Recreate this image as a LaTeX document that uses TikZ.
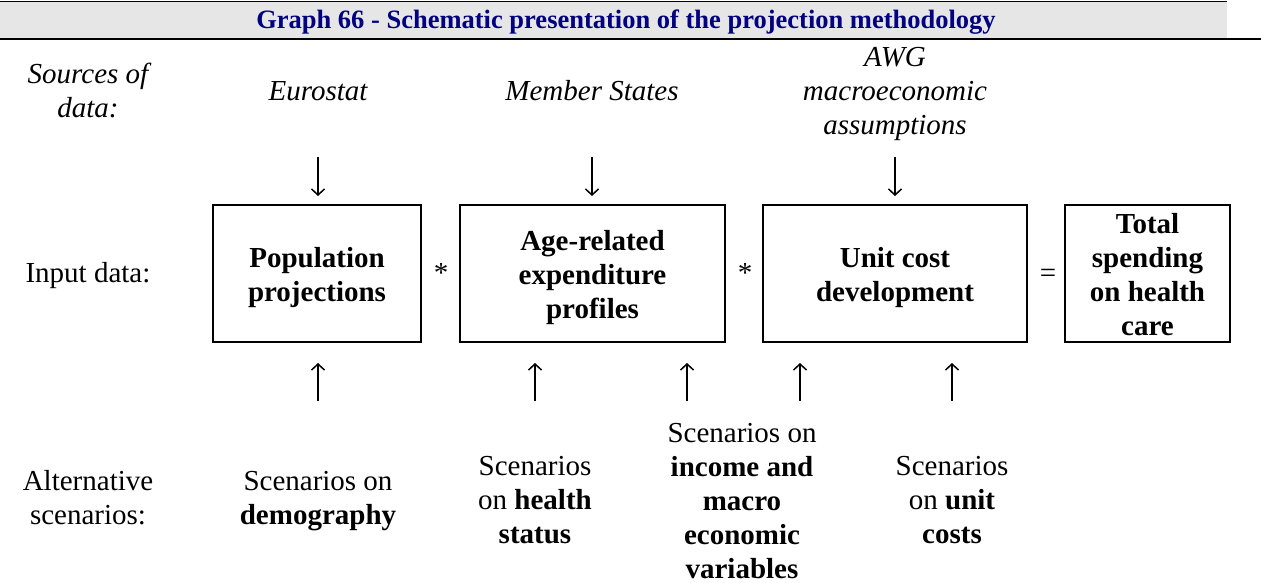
\documentclass[tikz,border=0pt]{standalone}
\usepackage{fontspec}
\setmainfont{Liberation Serif}
\usetikzlibrary{arrows.meta}
\definecolor{titleblue}{RGB}{0,0,128}
\definecolor{bargray}{RGB}{230,230,230}
\begin{document}
\begin{tikzpicture}[x=1pt,y=-1pt,
  txt/.style={font=\fontsize{29}{34}\selectfont, align=center, anchor=base, inner sep=0pt},
  itxt/.style={txt, font=\fontsize{29}{34}\selectfont\itshape},
  btxt/.style={txt, font=\fontsize{29}{34}\selectfont\bfseries},
  frame/.style={draw, line width=1.3pt, inner sep=0pt},
  arr/.style={line width=1.5pt, -{Straight Barb[length=6pt,width=13pt]}}]
\useasboundingbox (0,0) rectangle (1261,583);
% title bar
\fill[bargray] (0,2) rectangle (1227,38);
\draw[line width=1pt] (0,1.5) -- (1227,1.5);
\draw[line width=2pt] (0,39) -- (1261,39);
\node[anchor=base, inner sep=0pt, text=titleblue, font=\fontsize{26.5}{30}\selectfont\bfseries] (title) at (626,29) {Graph 66 - Schematic presentation of the projection methodology};
% sources row (base anchor = baseline of the last line)
\node[itxt] (src) at (88,118) {Sources of\\data:};
\node[itxt] (euro) at (318,101) {Eurostat};
\node[itxt] (ms) at (592,101) {Member States};
\node[itxt] (awg) at (895,135) {AWG\\macroeconomic\\assumptions};
% boxes
\node[frame, minimum width=208pt, minimum height=137pt] (b1) at (317,273.5) {};
\node[frame, minimum width=265pt, minimum height=137pt] (b2) at (592.5,273.5) {};
\node[frame, minimum width=264pt, minimum height=137pt] (b3) at (895,273.5) {};
\node[frame, minimum width=165pt, minimum height=137pt] (b4) at (1147.5,273.5) {};
\node[btxt] (t1) at (317,301) {Population\\projections};
\node[btxt] (t2) at (592.5,318) {Age-related\\expenditure\\profiles};
\node[btxt] (t3) at (895,301) {Unit cost\\development};
\node[btxt] (t4) at (1147.5,335) {Total\\spending\\on health\\care};
\node[txt] (inp) at (88,282) {Input data:};
\node[txt] (op1) at (441,282) {*};
\node[txt] (op2) at (745,282) {*};
\node[txt] (op3) at (1048,282) {=};
% down arrows
\coordinate (d1a) at (318,157); \coordinate (d1b) at (318,196);
\coordinate (d2a) at (592,157); \coordinate (d2b) at (592,196);
\coordinate (d3a) at (895,157); \coordinate (d3b) at (895,196);
\draw[arr] (d1a) -- (d1b);
\draw[arr] (d2a) -- (d2b);
\draw[arr] (d3a) -- (d3b);
% up arrows
\coordinate (u1a) at (318,401); \coordinate (u1b) at (318,363);
\coordinate (u2a) at (535,401); \coordinate (u2b) at (535,363);
\coordinate (u3a) at (687,401); \coordinate (u3b) at (687,363);
\coordinate (u4a) at (800,401); \coordinate (u4b) at (800,363);
\coordinate (u5a) at (952,401); \coordinate (u5b) at (952,363);
\draw[arr] (u1a) -- (u1b);
\draw[arr] (u2a) -- (u2b);
\draw[arr] (u3a) -- (u3b);
\draw[arr] (u4a) -- (u4b);
\draw[arr] (u5a) -- (u5b);
% scenarios
\node[txt] (alt) at (88,524) {Alternative\\scenarios:};
\node[txt] (s1) at (318,524) {Scenarios on\\\textbf{demography}};
\node[txt] (s2) at (535,543) {Scenarios\\on \textbf{health}\\\textbf{status}};
\node[txt] (s3) at (742,578) {Scenarios on\\\textbf{income and}\\\textbf{macro}\\\textbf{economic}\\\textbf{variables}};
\node[txt] (s4) at (952,543) {Scenarios\\on \textbf{unit}\\\textbf{costs}};
\end{tikzpicture}
\end{document}
